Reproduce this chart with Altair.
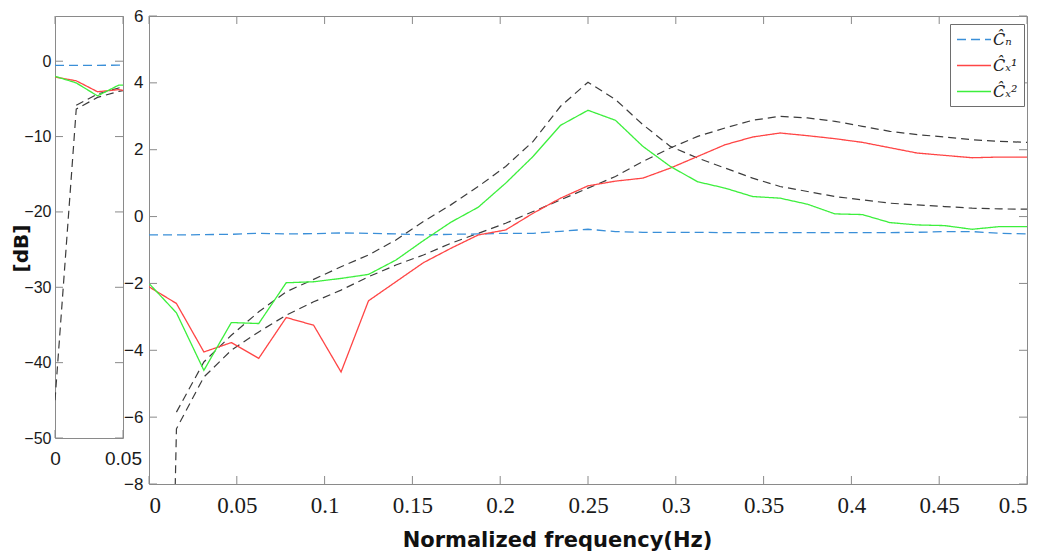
import altair as alt
import pandas as pd

# ---------------- data ----------------
freq = [0.0, 0.015625, 0.03125, 0.046875, 0.0625, 0.078125, 0.09375, 0.109375,
        0.125, 0.140625, 0.15625, 0.171875, 0.1875, 0.203125, 0.21875, 0.234375,
        0.25, 0.265625, 0.28125, 0.296875, 0.3125, 0.328125, 0.34375, 0.359375,
        0.375, 0.390625, 0.40625, 0.421875, 0.4375, 0.453125, 0.46875, 0.484375, 0.5]

c_n = [-0.55, -0.55, -0.54, -0.53, -0.50, -0.52, -0.51, -0.49, -0.50, -0.52, -0.55,
       -0.53, -0.52, -0.50, -0.50, -0.44, -0.38, -0.45, -0.47, -0.47, -0.47, -0.48,
       -0.48, -0.48, -0.48, -0.48, -0.48, -0.48, -0.47, -0.45, -0.45, -0.50, -0.52]

c_x1 = [-2.10, -2.60, -4.05, -3.77, -4.24, -3.02, -3.25, -4.65, -2.52, -1.95, -1.38,
        -0.95, -0.55, -0.40, 0.10, 0.55, 0.92, 1.06, 1.15, 1.45, 1.80, 2.15, 2.38,
        2.50, 2.42, 2.33, 2.22, 2.06, 1.90, 1.83, 1.76, 1.78, 1.78]

c_x2 = [-2.00, -2.88, -4.60, -3.17, -3.20, -1.98, -1.95, -1.85, -1.73, -1.30, -0.72,
        -0.17, 0.28, 1.00, 1.80, 2.73, 3.18, 2.88, 2.10, 1.50, 1.04, 0.85, 0.60,
        0.55, 0.37, 0.08, 0.06, -0.18, -0.25, -0.27, -0.38, -0.30, -0.30]

bound_peak = [None, -5.85, -4.35, -3.55, -2.85, -2.25, -1.88, -1.50, -1.15, -0.70,
              -0.15, 0.35, 0.90, 1.50, 2.25, 3.30, 4.02, 3.50, 2.75, 2.10, 1.75,
              1.45, 1.15, 0.90, 0.75, 0.60, 0.50, 0.40, 0.35, 0.30, 0.25, 0.23, 0.22]

bound_rise = [-45.0, -6.35, -4.80, -4.00, -3.45, -2.95, -2.55, -2.20, -1.80, -1.45,
              -1.15, -0.80, -0.50, -0.20, 0.15, 0.50, 0.85, 1.20, 1.65, 2.05, 2.40,
              2.65, 2.88, 3.00, 2.95, 2.85, 2.70, 2.55, 2.45, 2.38, 2.30, 2.25, 2.22]

series_names = ["Ĉₙ", "Ĉₓ¹", "Ĉₓ²"]
series_colors = ["#3a8fd8", "#ff4545", "#3cef3c"]

main_x_ticks = [0, 0.05, 0.1, 0.15, 0.2, 0.25, 0.3, 0.35, 0.4, 0.45, 0.5]
main_y_ticks = [-8, -6, -4, -2, 0, 2, 4, 6]
left_x_ticks = [0, 0.05]
left_y_ticks = [-50, -40, -30, -20, -10, 0]

# ---------------- tables ----------------
rows = []
for name, vals in zip(series_names, [c_n, c_x1, c_x2]):
    for f, v in zip(freq, vals):
        rows.append({"f": f, "v": v, "series": name})
df = pd.DataFrame(rows)

brows = []
for name, vals in [("peak", bound_peak), ("rise", bound_rise)]:
    for f, v in zip(freq, vals):
        if v is not None:
            brows.append({"f": f, "v": v, "curve": name})
dfb = pd.DataFrame(brows)

GRAY = "#8a8a8a"
TICK = 8


def panel(W, H, xdom, ydom, xticks, yticks, main):
    xs = alt.Scale(domain=xdom, nice=False, zero=False)
    ys = alt.Scale(domain=ydom, nice=False, zero=False)
    if main:
        xaxis = alt.Axis(values=xticks, format="~g", labelFont="Liberation Sans Narrow",
                         labelFontSize=23, labelPadding=10,
                         title="Normalized frequency(Hz)", titleFont="DejaVu Sans",
                         titleFontWeight="bold", titleFontSize=21, titleX=408, titleY=62,
                         titleBaseline="alphabetic", titleAnchor="start", titleAlign="center")
        yaxis = alt.Axis(values=yticks, format="d", labelFontSize=17, labelPadding=6, title=None)
    else:
        xaxis = alt.Axis(values=xticks, format="~g", labelFontSize=19, labelPadding=11, title=None,
                         labelFlush=False)
        yaxis = alt.Axis(values=yticks, format="d", labelFontSize=16, labelPadding=4,
                         title="[dB]", titleFont="DejaVu Sans", titleFontWeight="bold",
                         titleFontSize=20, titleX=-34, titleY=232, titleAngle=270,
                         titleAlign="center", titleBaseline="middle")
    X = alt.X("f:Q", scale=xs, axis=xaxis)
    Y = alt.Y("v:Q", scale=ys, axis=yaxis)

    layers = []
    black = alt.Chart(dfb).mark_line(color="#3c3c3c", strokeDash=[8, 5], strokeWidth=1.2,
                                     clip=True).encode(x=X, y=Y, detail="curve:N")
    if main:
        lines = alt.Chart(df).mark_line(strokeWidth=1.3, clip=True).encode(
            x=X, y=Y,
            color=alt.Color("series:N", scale=alt.Scale(domain=series_names, range=series_colors),
                            legend=alt.Legend(title=None)),
            strokeDash=alt.StrokeDash("series:N",
                                      scale=alt.Scale(domain=series_names,
                                                      range=[[9, 5], [1, 0], [1, 0]]),
                                      legend=alt.Legend(title=None)),
        )
        layers += [black, lines]
    else:
        for name, col in zip(series_names, series_colors):
            dash = [9, 5] if name == series_names[0] else [1, 0]
            layers.append(alt.Chart(df).transform_filter(alt.datum.series == name)
                          .mark_line(color=col, strokeDash=dash, strokeWidth=1.3, clip=True)
                          .encode(x=X, y=Y))
        layers.insert(0, black)

    ydf = pd.DataFrame({"v": yticks})
    xdf = pd.DataFrame({"f": xticks})
    rule = dict(color=GRAY, strokeWidth=1)
    layers += [
        alt.Chart(ydf).mark_rule(**rule).encode(y=Y, x=alt.value(0), x2=alt.value(TICK)),
        alt.Chart(ydf).mark_rule(**rule).encode(y=Y, x=alt.value(W), x2=alt.value(W - TICK)),
        alt.Chart(xdf).mark_rule(**rule).encode(x=X, y=alt.value(H), y2=alt.value(H - TICK)),
        alt.Chart(xdf).mark_rule(**rule).encode(x=X, y=alt.value(0), y2=alt.value(TICK)),
    ]
    return alt.layer(*layers).properties(width=W, height=H)


left = panel(68, 422, [0, 0.05], [-50, 6], left_x_ticks, left_y_ticks, main=False)
main = panel(878, 468, [0, 0.5], [-8, 6], main_x_ticks, main_y_ticks, main=True)

chart = (
    alt.hconcat(left, main, spacing=26, bounds="flush")
    .properties(padding={"left": 10, "top": 6, "right": 5, "bottom": 0}, background="white")
    .configure_view(stroke=GRAY, strokeWidth=1)
    .configure_axis(domain=False, ticks=False, grid=False, labelFont="Liberation Sans",
                    labelColor="#1a1a1a", titleColor="#111")
    .configure_legend(orient="none", legendX=895, legendY=8, fillColor="white",
                      strokeColor="#6e6e6e", padding=6, symbolType="M-1,0H3",
                      symbolSize=289, symbolStrokeWidth=1.4, labelFont="DejaVu Serif",
                      labelFontStyle="italic", labelFontSize=16, rowPadding=8,
                      labelOffset=18, labelColor="#222")
)

chart.save("out.html", embed_options={"renderer": "svg", "actions": False})
